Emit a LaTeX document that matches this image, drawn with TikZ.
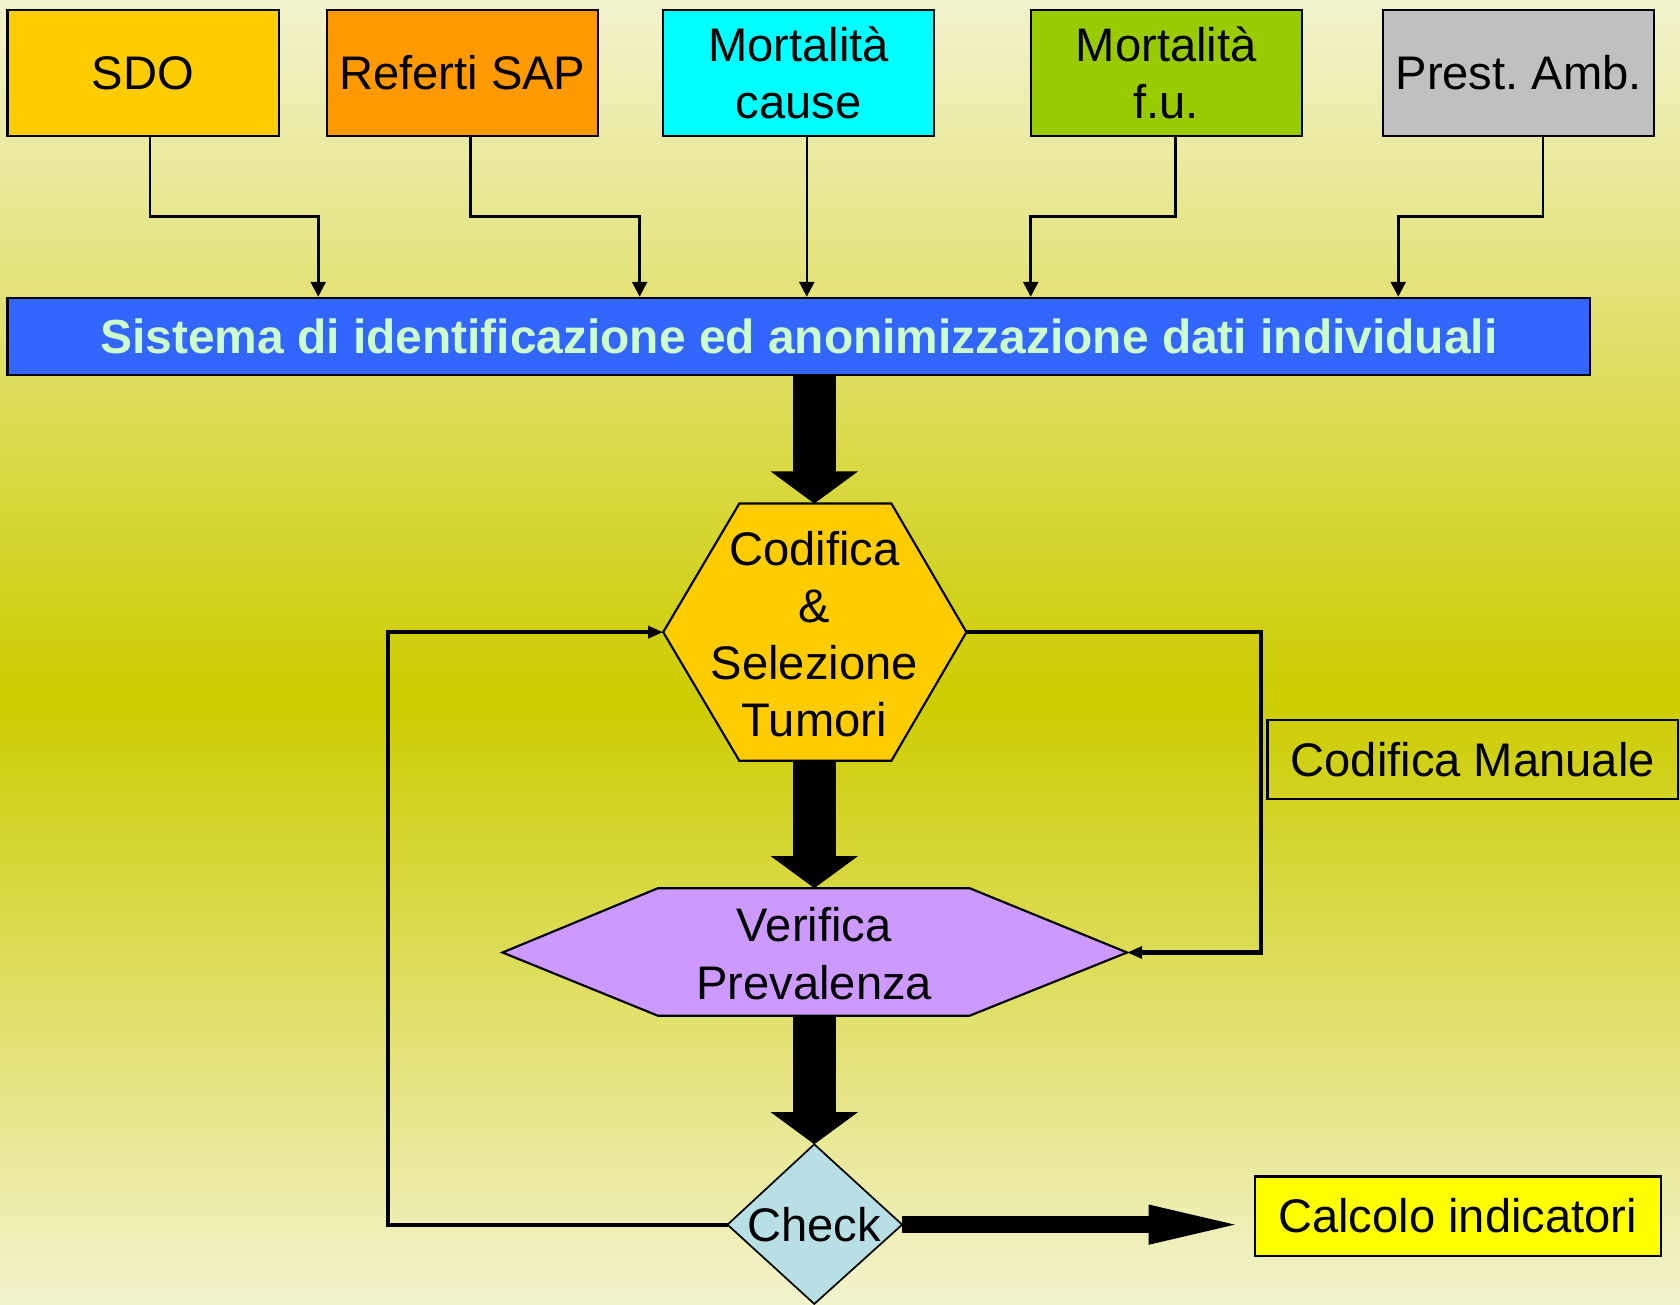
\documentclass[tikz,border=0pt]{standalone}
\usepackage{fontspec}
\setmainfont{Liberation Sans}
\usetikzlibrary{arrows.meta}
\frenchspacing
\definecolor{bgedge}{RGB}{243,243,206}
\definecolor{bgmid}{RGB}{204,204,0}
\definecolor{csdo}{HTML}{FFCC00}
\definecolor{csap}{HTML}{FF9900}
\definecolor{ccause}{HTML}{00FFFF}
\definecolor{cfu}{HTML}{99CC00}
\definecolor{cprest}{HTML}{C0C0C0}
\definecolor{cbar}{HTML}{3366FF}
\definecolor{cbartext}{HTML}{CCFFCC}
\definecolor{chex}{HTML}{FFCC00}
\definecolor{cver}{HTML}{CC99FF}
\definecolor{cchk}{HTML}{B8DFE4}
\definecolor{ccalc}{HTML}{FFFF00}
\begin{document}
\begin{tikzpicture}[x=0.5pt,y=-0.5pt,
  txt/.style={font=\fontsize{22}{26.7}\selectfont, align=center, inner sep=0pt},
  src/.style={txt, draw=black, line width=1pt, minimum width=126.5pt, minimum height=59pt},
  thinarr/.style={line width=1.2pt, -{Triangle[width=7pt,length=7pt]}},
  bigarr/.style={line width=20pt, -{Triangle[width=40pt,length=15pt]}},
  looparr/.style={line width=2pt, -{Triangle[width=5.5pt,length=7pt]}},
  shapebox/.style={draw=black, line width=1pt}]
% background
\useasboundingbox (0,0) rectangle (1568,1218);
\shade[top color=bgedge, bottom color=bgmid] (0,0) rectangle (1568,652);
\shade[top color=bgmid, bottom color=bgedge] (0,650) rectangle (1568,1218);

% source boxes
\node[src, fill=csdo] (sdo) at (133.5,68) {SDO};
\node[src, fill=csap] (sap) at (431.5,68) {Referti SAP};
\node[src, fill=ccause] (cause) at (745.5,68) {Mortalità\\cause};
\node[src, fill=cfu] (fu) at (1088.5,68) {Mortalità\\f.u.};
\node[src, fill=cprest] (prest) at (1417.5,68) {Prest.\ Amb.};

% bar
\node[txt, draw=black, line width=1pt, fill=cbar, text=cbartext, minimum width=738.5pt, minimum height=36pt, font=\fontsize{22.35}{26.7}\selectfont\bfseries] (bar) at (745.5,314) {Sistema di identificazione ed anonimizzazione dati individuali};

% bends
\coordinate (k1) at (297,202);
\coordinate (k2) at (597,202);
\coordinate (k3) at (753,202);
\coordinate (k4) at (962,202);
\coordinate (k5) at (1305,202);
\draw[thinarr] ([xshift=3.25pt]sdo.south) |- (k1) -- (k1 |- bar.north);
\draw[thinarr] ([xshift=3.75pt]sap.south) |- (k2) -- (k2 |- bar.north);
\draw[thinarr] ([xshift=3.75pt]cause.south) -- (k3) -- (k3 |- bar.north);
\draw[thinarr] ([xshift=4.25pt]fu.south) |- (k4) -- (k4 |- bar.north);
\draw[thinarr] ([xshift=11.25pt]prest.south) |- (k5) -- (k5 |- bar.north);

% hexagon
\coordinate (hexT) at (760,470);
\coordinate (hexB) at (760,710);
\coordinate (hexL) at (619,590);
\coordinate (hexR) at (902,590);
\draw[shapebox, fill=chex] (690,470) -- (832,470) -- (hexR) -- (832,710) -- (690,710) -- (hexL) -- cycle;
\node[txt] (hex) at (760,592) {Codifica\\\&\\Selezione\\Tumori};

% verifica
\coordinate (verT) at (760,829);
\coordinate (verB) at (760,948);
\coordinate (verL) at (469,889);
\coordinate (verR) at (1052,889);
\draw[shapebox, fill=cver] (614,829) -- (905,829) -- (verR) -- (905,948) -- (614,948) -- (verL) -- cycle;
\node[txt] (ver) at (760,890) {Verifica\\Prevalenza};

% check
\coordinate (chkT) at (760,1068);
\coordinate (chkB) at (760,1217);
\coordinate (chkL) at (679,1143);
\coordinate (chkR) at (842,1143);
\draw[shapebox, line width=0.8pt, fill=cchk] (chkT) -- (chkR) -- (chkB) -- (chkL) -- cycle;
\node[txt] (chk) at (760,1143) {Check};

% side boxes
\node[txt, draw=black, line width=1pt, minimum width=191.5pt, minimum height=37pt] (man) at (1374.5,709) {Codifica Manuale};
\node[txt, draw=black, line width=1pt, fill=ccalc, minimum width=189.5pt, minimum height=37pt] (calc) at (1360.5,1135) {Calcolo indicatori};

% big arrows
\draw[bigarr] (hexT |- bar.south) -- (hexT);
\draw[bigarr] (hexB) -- (verT);
\draw[bigarr] (verB) -- (chkT);
\draw[line width=8pt, -{Triangle[width=16pt,length=46pt]}, shorten >=3pt] (chkR) -- (chkR -| calc.west);

% loops
\coordinate (r1) at (1177,590);
\coordinate (l1) at (362,1143);
\draw[looparr] (hexR) -- (r1) |- (verR);
\draw[looparr] (chkL) -- (l1) |- (hexL);
\end{tikzpicture}
\end{document}
